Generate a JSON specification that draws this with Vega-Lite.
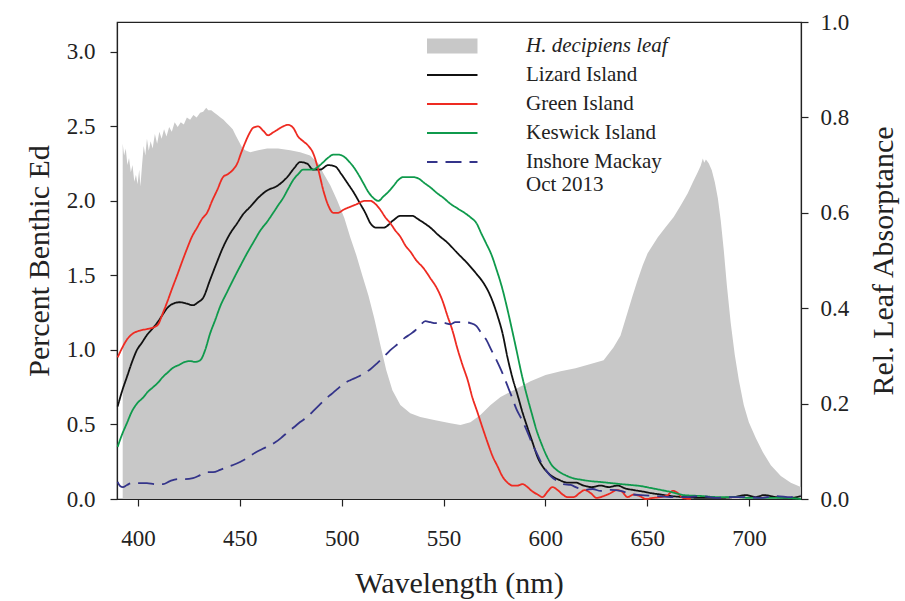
{
  "$schema": "https://vega.github.io/schema/vega-lite/v6.json",
  "width": 684,
  "height": 477,
  "autosize": {"type": "none"},
  "padding": {"left": 117, "top": 22, "right": 104, "bottom": 102},
  "background": "white",
  "config": {
    "font": "Liberation Serif",
    "view": {"stroke": "#222", "strokeWidth": 1.2},
    "axis": {
      "domainColor": "#222", "domainWidth": 1.2, "tickColor": "#222", "tickWidth": 1.2, "tickSize": 7,
      "labelColor": "#222", "titleColor": "#222", "labelFont": "Liberation Serif", "titleFont": "Liberation Serif",
      "labelFontSize": 23, "titleFontSize": 30, "titleFontWeight": "normal", "grid": false
    },
    "legend": {"padding": 0}
  },
  "data": {
    "values": [
      {"s": "H. decipiens leaf", "nm": 392.5, "v": 0.745}, {"s": "H. decipiens leaf", "nm": 393.2, "v": 0.72}, {"s": "H. decipiens leaf", "nm": 394.0, "v": 0.735},
      {"s": "H. decipiens leaf", "nm": 394.8, "v": 0.70}, {"s": "H. decipiens leaf", "nm": 395.6, "v": 0.715}, {"s": "H. decipiens leaf", "nm": 396.5, "v": 0.685},
      {"s": "H. decipiens leaf", "nm": 397.3, "v": 0.70}, {"s": "H. decipiens leaf", "nm": 398.2, "v": 0.665}, {"s": "H. decipiens leaf", "nm": 399.0, "v": 0.68},
      {"s": "H. decipiens leaf", "nm": 399.8, "v": 0.66}, {"s": "H. decipiens leaf", "nm": 400.6, "v": 0.69}, {"s": "H. decipiens leaf", "nm": 401.2, "v": 0.655},
      {"s": "H. decipiens leaf", "nm": 402.0, "v": 0.70}, {"s": "H. decipiens leaf", "nm": 402.8, "v": 0.74}, {"s": "H. decipiens leaf", "nm": 403.6, "v": 0.72},
      {"s": "H. decipiens leaf", "nm": 404.4, "v": 0.755}, {"s": "H. decipiens leaf", "nm": 405.3, "v": 0.73}, {"s": "H. decipiens leaf", "nm": 406.2, "v": 0.75},
      {"s": "H. decipiens leaf", "nm": 407.2, "v": 0.735}, {"s": "H. decipiens leaf", "nm": 408.3, "v": 0.765}, {"s": "H. decipiens leaf", "nm": 409.4, "v": 0.745},
      {"s": "H. decipiens leaf", "nm": 410.5, "v": 0.77}, {"s": "H. decipiens leaf", "nm": 411.6, "v": 0.755}, {"s": "H. decipiens leaf", "nm": 412.8, "v": 0.775},
      {"s": "H. decipiens leaf", "nm": 414.0, "v": 0.76}, {"s": "H. decipiens leaf", "nm": 415.3, "v": 0.78}, {"s": "H. decipiens leaf", "nm": 416.6, "v": 0.77},
      {"s": "H. decipiens leaf", "nm": 418.0, "v": 0.79}, {"s": "H. decipiens leaf", "nm": 419.5, "v": 0.78}, {"s": "H. decipiens leaf", "nm": 421.0, "v": 0.79},
      {"s": "H. decipiens leaf", "nm": 422.5, "v": 0.785}, {"s": "H. decipiens leaf", "nm": 424.0, "v": 0.80}, {"s": "H. decipiens leaf", "nm": 425.6, "v": 0.795},
      {"s": "H. decipiens leaf", "nm": 427.2, "v": 0.805}, {"s": "H. decipiens leaf", "nm": 428.8, "v": 0.80}, {"s": "H. decipiens leaf", "nm": 430.5, "v": 0.81},
      {"s": "H. decipiens leaf", "nm": 432.0, "v": 0.812}, {"s": "H. decipiens leaf", "nm": 433.5, "v": 0.82}, {"s": "H. decipiens leaf", "nm": 434.5, "v": 0.815},
      {"s": "H. decipiens leaf", "nm": 436.0, "v": 0.815}, {"s": "H. decipiens leaf", "nm": 437.5, "v": 0.81}, {"s": "H. decipiens leaf", "nm": 439.0, "v": 0.805},
      {"s": "H. decipiens leaf", "nm": 440.5, "v": 0.80}, {"s": "H. decipiens leaf", "nm": 442.0, "v": 0.795}, {"s": "H. decipiens leaf", "nm": 443.5, "v": 0.788},
      {"s": "H. decipiens leaf", "nm": 445.0, "v": 0.782}, {"s": "H. decipiens leaf", "nm": 446.5, "v": 0.775}, {"s": "H. decipiens leaf", "nm": 448.0, "v": 0.762},
      {"s": "H. decipiens leaf", "nm": 449.5, "v": 0.75}, {"s": "H. decipiens leaf", "nm": 451.0, "v": 0.738}, {"s": "H. decipiens leaf", "nm": 452.6, "v": 0.731},
      {"s": "H. decipiens leaf", "nm": 455.1, "v": 0.727}, {"s": "H. decipiens leaf", "nm": 459.0, "v": 0.731}, {"s": "H. decipiens leaf", "nm": 463.4, "v": 0.735},
      {"s": "H. decipiens leaf", "nm": 468.8, "v": 0.735}, {"s": "H. decipiens leaf", "nm": 474.7, "v": 0.731}, {"s": "H. decipiens leaf", "nm": 479.6, "v": 0.727},
      {"s": "H. decipiens leaf", "nm": 484.5, "v": 0.720}, {"s": "H. decipiens leaf", "nm": 488.5, "v": 0.704}, {"s": "H. decipiens leaf", "nm": 491.0, "v": 0.683},
      {"s": "H. decipiens leaf", "nm": 494.4, "v": 0.658}, {"s": "H. decipiens leaf", "nm": 497.8, "v": 0.626}, {"s": "H. decipiens leaf", "nm": 501.3, "v": 0.589},
      {"s": "H. decipiens leaf", "nm": 504.2, "v": 0.549}, {"s": "H. decipiens leaf", "nm": 507.2, "v": 0.511}, {"s": "H. decipiens leaf", "nm": 510.1, "v": 0.469},
      {"s": "H. decipiens leaf", "nm": 513.1, "v": 0.427}, {"s": "H. decipiens leaf", "nm": 516.0, "v": 0.379}, {"s": "H. decipiens leaf", "nm": 519.0, "v": 0.323},
      {"s": "H. decipiens leaf", "nm": 521.9, "v": 0.270}, {"s": "H. decipiens leaf", "nm": 524.9, "v": 0.228}, {"s": "H. decipiens leaf", "nm": 528.8, "v": 0.197},
      {"s": "H. decipiens leaf", "nm": 533.7, "v": 0.180}, {"s": "H. decipiens leaf", "nm": 538.6, "v": 0.172}, {"s": "H. decipiens leaf", "nm": 546.0, "v": 0.165},
      {"s": "H. decipiens leaf", "nm": 553.4, "v": 0.159}, {"s": "H. decipiens leaf", "nm": 558.3, "v": 0.155}, {"s": "H. decipiens leaf", "nm": 563.2, "v": 0.161},
      {"s": "H. decipiens leaf", "nm": 568.1, "v": 0.176}, {"s": "H. decipiens leaf", "nm": 573.1, "v": 0.197}, {"s": "H. decipiens leaf", "nm": 578.0, "v": 0.214},
      {"s": "H. decipiens leaf", "nm": 585.3, "v": 0.230}, {"s": "H. decipiens leaf", "nm": 592.7, "v": 0.247}, {"s": "H. decipiens leaf", "nm": 600.1, "v": 0.260},
      {"s": "H. decipiens leaf", "nm": 607.5, "v": 0.268}, {"s": "H. decipiens leaf", "nm": 614.8, "v": 0.274}, {"s": "H. decipiens leaf", "nm": 622.2, "v": 0.283},
      {"s": "H. decipiens leaf", "nm": 628.6, "v": 0.291}, {"s": "H. decipiens leaf", "nm": 633.5, "v": 0.318}, {"s": "H. decipiens leaf", "nm": 636.9, "v": 0.343},
      {"s": "H. decipiens leaf", "nm": 640.4, "v": 0.392}, {"s": "H. decipiens leaf", "nm": 642.9, "v": 0.427}, {"s": "H. decipiens leaf", "nm": 645.3, "v": 0.459},
      {"s": "H. decipiens leaf", "nm": 647.8, "v": 0.490}, {"s": "H. decipiens leaf", "nm": 650.2, "v": 0.515}, {"s": "H. decipiens leaf", "nm": 652.7, "v": 0.532},
      {"s": "H. decipiens leaf", "nm": 655.2, "v": 0.549}, {"s": "H. decipiens leaf", "nm": 659.1, "v": 0.570}, {"s": "H. decipiens leaf", "nm": 663.0, "v": 0.591},
      {"s": "H. decipiens leaf", "nm": 666.5, "v": 0.616}, {"s": "H. decipiens leaf", "nm": 669.9, "v": 0.641}, {"s": "H. decipiens leaf", "nm": 672.4, "v": 0.664},
      {"s": "H. decipiens leaf", "nm": 674.8, "v": 0.685}, {"s": "H. decipiens leaf", "nm": 676.3, "v": 0.699}, {"s": "H. decipiens leaf", "nm": 677.3, "v": 0.714},
      {"s": "H. decipiens leaf", "nm": 678.0, "v": 0.705}, {"s": "H. decipiens leaf", "nm": 678.8, "v": 0.712}, {"s": "H. decipiens leaf", "nm": 680.2, "v": 0.704},
      {"s": "H. decipiens leaf", "nm": 681.7, "v": 0.689}, {"s": "H. decipiens leaf", "nm": 683.2, "v": 0.664}, {"s": "H. decipiens leaf", "nm": 684.7, "v": 0.630},
      {"s": "H. decipiens leaf", "nm": 686.1, "v": 0.584}, {"s": "H. decipiens leaf", "nm": 687.6, "v": 0.521}, {"s": "H. decipiens leaf", "nm": 689.1, "v": 0.448},
      {"s": "H. decipiens leaf", "nm": 691.0, "v": 0.369}, {"s": "H. decipiens leaf", "nm": 693.0, "v": 0.302}, {"s": "H. decipiens leaf", "nm": 695.0, "v": 0.249},
      {"s": "H. decipiens leaf", "nm": 697.4, "v": 0.197}, {"s": "H. decipiens leaf", "nm": 699.9, "v": 0.161}, {"s": "H. decipiens leaf", "nm": 703.3, "v": 0.128},
      {"s": "H. decipiens leaf", "nm": 706.8, "v": 0.098}, {"s": "H. decipiens leaf", "nm": 710.7, "v": 0.071}, {"s": "H. decipiens leaf", "nm": 715.6, "v": 0.048},
      {"s": "H. decipiens leaf", "nm": 720.5, "v": 0.034}, {"s": "H. decipiens leaf", "nm": 725.4, "v": 0.025},

      {"s": "Lizard Island", "nm": 390.0, "v": 0.62}, {"s": "Lizard Island", "nm": 392.1, "v": 0.72}, {"s": "Lizard Island", "nm": 394.6, "v": 0.82},
      {"s": "Lizard Island", "nm": 397.1, "v": 0.92}, {"s": "Lizard Island", "nm": 399.5, "v": 1.00}, {"s": "Lizard Island", "nm": 402.0, "v": 1.05},
      {"s": "Lizard Island", "nm": 404.4, "v": 1.10}, {"s": "Lizard Island", "nm": 406.9, "v": 1.14}, {"s": "Lizard Island", "nm": 409.3, "v": 1.18},
      {"s": "Lizard Island", "nm": 411.8, "v": 1.23}, {"s": "Lizard Island", "nm": 414.3, "v": 1.28}, {"s": "Lizard Island", "nm": 417.2, "v": 1.31},
      {"s": "Lizard Island", "nm": 420.6, "v": 1.32}, {"s": "Lizard Island", "nm": 424.1, "v": 1.31}, {"s": "Lizard Island", "nm": 427.0, "v": 1.30},
      {"s": "Lizard Island", "nm": 429.5, "v": 1.32}, {"s": "Lizard Island", "nm": 432.0, "v": 1.35}, {"s": "Lizard Island", "nm": 435.4, "v": 1.47},
      {"s": "Lizard Island", "nm": 438.8, "v": 1.59}, {"s": "Lizard Island", "nm": 441.8, "v": 1.69}, {"s": "Lizard Island", "nm": 445.2, "v": 1.78},
      {"s": "Lizard Island", "nm": 448.7, "v": 1.85}, {"s": "Lizard Island", "nm": 451.6, "v": 1.91}, {"s": "Lizard Island", "nm": 455.1, "v": 1.96},
      {"s": "Lizard Island", "nm": 459.0, "v": 2.02}, {"s": "Lizard Island", "nm": 463.4, "v": 2.07}, {"s": "Lizard Island", "nm": 468.3, "v": 2.10},
      {"s": "Lizard Island", "nm": 473.3, "v": 2.16}, {"s": "Lizard Island", "nm": 476.7, "v": 2.22}, {"s": "Lizard Island", "nm": 479.6, "v": 2.26},
      {"s": "Lizard Island", "nm": 483.0, "v": 2.25}, {"s": "Lizard Island", "nm": 486.0, "v": 2.21}, {"s": "Lizard Island", "nm": 489.5, "v": 2.21},
      {"s": "Lizard Island", "nm": 493.4, "v": 2.24}, {"s": "Lizard Island", "nm": 496.9, "v": 2.23}, {"s": "Lizard Island", "nm": 499.8, "v": 2.18},
      {"s": "Lizard Island", "nm": 502.8, "v": 2.12}, {"s": "Lizard Island", "nm": 506.2, "v": 2.05}, {"s": "Lizard Island", "nm": 509.1, "v": 1.98},
      {"s": "Lizard Island", "nm": 511.6, "v": 1.92}, {"s": "Lizard Island", "nm": 514.1, "v": 1.85}, {"s": "Lizard Island", "nm": 517.0, "v": 1.82},
      {"s": "Lizard Island", "nm": 520.5, "v": 1.82}, {"s": "Lizard Island", "nm": 525.4, "v": 1.87}, {"s": "Lizard Island", "nm": 528.8, "v": 1.90},
      {"s": "Lizard Island", "nm": 532.3, "v": 1.90}, {"s": "Lizard Island", "nm": 534.7, "v": 1.90}, {"s": "Lizard Island", "nm": 537.2, "v": 1.88},
      {"s": "Lizard Island", "nm": 540.6, "v": 1.85}, {"s": "Lizard Island", "nm": 543.6, "v": 1.82}, {"s": "Lizard Island", "nm": 547.5, "v": 1.77},
      {"s": "Lizard Island", "nm": 551.9, "v": 1.72}, {"s": "Lizard Island", "nm": 556.8, "v": 1.65}, {"s": "Lizard Island", "nm": 561.8, "v": 1.58},
      {"s": "Lizard Island", "nm": 566.2, "v": 1.51}, {"s": "Lizard Island", "nm": 569.6, "v": 1.45}, {"s": "Lizard Island", "nm": 573.1, "v": 1.36},
      {"s": "Lizard Island", "nm": 576.5, "v": 1.23}, {"s": "Lizard Island", "nm": 579.0, "v": 1.11}, {"s": "Lizard Island", "nm": 581.4, "v": 0.95},
      {"s": "Lizard Island", "nm": 583.9, "v": 0.81}, {"s": "Lizard Island", "nm": 586.3, "v": 0.70}, {"s": "Lizard Island", "nm": 588.8, "v": 0.58},
      {"s": "Lizard Island", "nm": 591.2, "v": 0.48}, {"s": "Lizard Island", "nm": 593.7, "v": 0.38}, {"s": "Lizard Island", "nm": 596.2, "v": 0.28},
      {"s": "Lizard Island", "nm": 599.1, "v": 0.21}, {"s": "Lizard Island", "nm": 602.6, "v": 0.16}, {"s": "Lizard Island", "nm": 606.5, "v": 0.13},
      {"s": "Lizard Island", "nm": 610.9, "v": 0.11}, {"s": "Lizard Island", "nm": 614.8, "v": 0.11}, {"s": "Lizard Island", "nm": 618.8, "v": 0.09},
      {"s": "Lizard Island", "nm": 622.7, "v": 0.08}, {"s": "Lizard Island", "nm": 627.1, "v": 0.09}, {"s": "Lizard Island", "nm": 631.1, "v": 0.08},
      {"s": "Lizard Island", "nm": 635.5, "v": 0.09}, {"s": "Lizard Island", "nm": 639.4, "v": 0.07}, {"s": "Lizard Island", "nm": 643.4, "v": 0.06},
      {"s": "Lizard Island", "nm": 647.8, "v": 0.05}, {"s": "Lizard Island", "nm": 651.7, "v": 0.04}, {"s": "Lizard Island", "nm": 656.6, "v": 0.03},
      {"s": "Lizard Island", "nm": 661.6, "v": 0.02}, {"s": "Lizard Island", "nm": 668.0, "v": 0.013}, {"s": "Lizard Island", "nm": 676.4, "v": 0.007},
      {"s": "Lizard Island", "nm": 684.7, "v": 0.007}, {"s": "Lizard Island", "nm": 692.5, "v": 0.013}, {"s": "Lizard Island", "nm": 698.4, "v": 0.026},
      {"s": "Lizard Island", "nm": 703.3, "v": 0.013}, {"s": "Lizard Island", "nm": 707.3, "v": 0.026}, {"s": "Lizard Island", "nm": 713.2, "v": 0.013},
      {"s": "Lizard Island", "nm": 720.5, "v": 0.007}, {"s": "Lizard Island", "nm": 725.4, "v": 0.02},

      {"s": "Green Island", "nm": 390.0, "v": 0.95}, {"s": "Green Island", "nm": 392.1, "v": 1.01}, {"s": "Green Island", "nm": 394.6, "v": 1.07},
      {"s": "Green Island", "nm": 397.5, "v": 1.11}, {"s": "Green Island", "nm": 401.0, "v": 1.13}, {"s": "Green Island", "nm": 404.4, "v": 1.14},
      {"s": "Green Island", "nm": 407.4, "v": 1.15}, {"s": "Green Island", "nm": 409.8, "v": 1.17}, {"s": "Green Island", "nm": 412.3, "v": 1.25},
      {"s": "Green Island", "nm": 414.3, "v": 1.32}, {"s": "Green Island", "nm": 416.7, "v": 1.41}, {"s": "Green Island", "nm": 419.2, "v": 1.50},
      {"s": "Green Island", "nm": 421.6, "v": 1.59}, {"s": "Green Island", "nm": 424.1, "v": 1.68}, {"s": "Green Island", "nm": 426.5, "v": 1.76},
      {"s": "Green Island", "nm": 429.0, "v": 1.82}, {"s": "Green Island", "nm": 431.5, "v": 1.88}, {"s": "Green Island", "nm": 433.9, "v": 1.92},
      {"s": "Green Island", "nm": 436.4, "v": 2.00}, {"s": "Green Island", "nm": 438.8, "v": 2.07}, {"s": "Green Island", "nm": 441.8, "v": 2.16},
      {"s": "Green Island", "nm": 444.2, "v": 2.18}, {"s": "Green Island", "nm": 446.7, "v": 2.21}, {"s": "Green Island", "nm": 448.7, "v": 2.25},
      {"s": "Green Island", "nm": 450.6, "v": 2.32}, {"s": "Green Island", "nm": 452.6, "v": 2.39}, {"s": "Green Island", "nm": 454.6, "v": 2.45},
      {"s": "Green Island", "nm": 456.5, "v": 2.49}, {"s": "Green Island", "nm": 459.0, "v": 2.50}, {"s": "Green Island", "nm": 461.5, "v": 2.47},
      {"s": "Green Island", "nm": 463.9, "v": 2.44}, {"s": "Green Island", "nm": 466.4, "v": 2.46}, {"s": "Green Island", "nm": 468.8, "v": 2.48},
      {"s": "Green Island", "nm": 471.3, "v": 2.50}, {"s": "Green Island", "nm": 473.7, "v": 2.51}, {"s": "Green Island", "nm": 476.2, "v": 2.49},
      {"s": "Green Island", "nm": 478.7, "v": 2.43}, {"s": "Green Island", "nm": 481.1, "v": 2.40}, {"s": "Green Island", "nm": 483.6, "v": 2.37},
      {"s": "Green Island", "nm": 486.0, "v": 2.32}, {"s": "Green Island", "nm": 488.5, "v": 2.21}, {"s": "Green Island", "nm": 491.0, "v": 2.07},
      {"s": "Green Island", "nm": 493.4, "v": 1.97}, {"s": "Green Island", "nm": 495.9, "v": 1.92}, {"s": "Green Island", "nm": 498.3, "v": 1.92},
      {"s": "Green Island", "nm": 500.8, "v": 1.94}, {"s": "Green Island", "nm": 504.2, "v": 1.96}, {"s": "Green Island", "nm": 507.7, "v": 1.98},
      {"s": "Green Island", "nm": 511.1, "v": 2.00}, {"s": "Green Island", "nm": 514.1, "v": 2.00}, {"s": "Green Island", "nm": 516.5, "v": 1.98},
      {"s": "Green Island", "nm": 519.0, "v": 1.94}, {"s": "Green Island", "nm": 521.4, "v": 1.89}, {"s": "Green Island", "nm": 523.9, "v": 1.85},
      {"s": "Green Island", "nm": 526.4, "v": 1.80}, {"s": "Green Island", "nm": 528.8, "v": 1.76}, {"s": "Green Island", "nm": 531.3, "v": 1.70},
      {"s": "Green Island", "nm": 533.7, "v": 1.66}, {"s": "Green Island", "nm": 536.7, "v": 1.60}, {"s": "Green Island", "nm": 540.1, "v": 1.55},
      {"s": "Green Island", "nm": 543.6, "v": 1.48}, {"s": "Green Island", "nm": 546.5, "v": 1.42}, {"s": "Green Island", "nm": 549.5, "v": 1.33},
      {"s": "Green Island", "nm": 551.9, "v": 1.23}, {"s": "Green Island", "nm": 554.4, "v": 1.13}, {"s": "Green Island", "nm": 556.8, "v": 1.01},
      {"s": "Green Island", "nm": 559.3, "v": 0.90}, {"s": "Green Island", "nm": 561.8, "v": 0.80}, {"s": "Green Island", "nm": 564.2, "v": 0.68},
      {"s": "Green Island", "nm": 566.7, "v": 0.58}, {"s": "Green Island", "nm": 569.1, "v": 0.48}, {"s": "Green Island", "nm": 571.6, "v": 0.38},
      {"s": "Green Island", "nm": 574.0, "v": 0.29}, {"s": "Green Island", "nm": 576.5, "v": 0.22}, {"s": "Green Island", "nm": 579.0, "v": 0.15},
      {"s": "Green Island", "nm": 581.4, "v": 0.11}, {"s": "Green Island", "nm": 583.9, "v": 0.09}, {"s": "Green Island", "nm": 586.3, "v": 0.09},
      {"s": "Green Island", "nm": 588.8, "v": 0.10}, {"s": "Green Island", "nm": 591.2, "v": 0.08}, {"s": "Green Island", "nm": 593.7, "v": 0.05},
      {"s": "Green Island", "nm": 596.2, "v": 0.03}, {"s": "Green Island", "nm": 598.6, "v": 0.013}, {"s": "Green Island", "nm": 601.1, "v": 0.05},
      {"s": "Green Island", "nm": 603.5, "v": 0.08}, {"s": "Green Island", "nm": 606.0, "v": 0.06}, {"s": "Green Island", "nm": 608.5, "v": 0.03},
      {"s": "Green Island", "nm": 610.9, "v": 0.013}, {"s": "Green Island", "nm": 613.9, "v": 0.013}, {"s": "Green Island", "nm": 616.8, "v": 0.04},
      {"s": "Green Island", "nm": 619.3, "v": 0.06}, {"s": "Green Island", "nm": 622.2, "v": 0.04}, {"s": "Green Island", "nm": 625.2, "v": 0.007},
      {"s": "Green Island", "nm": 628.6, "v": 0.02}, {"s": "Green Island", "nm": 632.1, "v": 0.04}, {"s": "Green Island", "nm": 635.0, "v": 0.06},
      {"s": "Green Island", "nm": 637.5, "v": 0.05}, {"s": "Green Island", "nm": 640.4, "v": 0.013}, {"s": "Green Island", "nm": 643.4, "v": 0.03},
      {"s": "Green Island", "nm": 646.3, "v": 0.02}, {"s": "Green Island", "nm": 649.3, "v": 0.0}, {"s": "Green Island", "nm": 652.7, "v": 0.007},
      {"s": "Green Island", "nm": 656.6, "v": 0.013}, {"s": "Green Island", "nm": 660.1, "v": 0.026}, {"s": "Green Island", "nm": 662.5, "v": 0.055},
      {"s": "Green Island", "nm": 665.0, "v": 0.04}, {"s": "Green Island", "nm": 667.5, "v": 0.007}, {"s": "Green Island", "nm": 671.4, "v": 0.0},

      {"s": "Keswick Island", "nm": 390.0, "v": 0.35}, {"s": "Keswick Island", "nm": 392.1, "v": 0.43}, {"s": "Keswick Island", "nm": 394.6, "v": 0.51},
      {"s": "Keswick Island", "nm": 397.1, "v": 0.59}, {"s": "Keswick Island", "nm": 399.5, "v": 0.64}, {"s": "Keswick Island", "nm": 402.5, "v": 0.68},
      {"s": "Keswick Island", "nm": 404.9, "v": 0.72}, {"s": "Keswick Island", "nm": 407.4, "v": 0.75}, {"s": "Keswick Island", "nm": 409.8, "v": 0.78},
      {"s": "Keswick Island", "nm": 412.3, "v": 0.82}, {"s": "Keswick Island", "nm": 414.7, "v": 0.85}, {"s": "Keswick Island", "nm": 417.2, "v": 0.88},
      {"s": "Keswick Island", "nm": 420.2, "v": 0.90}, {"s": "Keswick Island", "nm": 423.1, "v": 0.92}, {"s": "Keswick Island", "nm": 425.6, "v": 0.925},
      {"s": "Keswick Island", "nm": 428.0, "v": 0.92}, {"s": "Keswick Island", "nm": 430.5, "v": 0.93}, {"s": "Keswick Island", "nm": 433.0, "v": 1.00},
      {"s": "Keswick Island", "nm": 435.4, "v": 1.11}, {"s": "Keswick Island", "nm": 437.9, "v": 1.20}, {"s": "Keswick Island", "nm": 440.3, "v": 1.29},
      {"s": "Keswick Island", "nm": 443.8, "v": 1.39}, {"s": "Keswick Island", "nm": 446.7, "v": 1.47}, {"s": "Keswick Island", "nm": 450.1, "v": 1.56},
      {"s": "Keswick Island", "nm": 453.6, "v": 1.65}, {"s": "Keswick Island", "nm": 457.0, "v": 1.73}, {"s": "Keswick Island", "nm": 460.0, "v": 1.80},
      {"s": "Keswick Island", "nm": 463.4, "v": 1.86}, {"s": "Keswick Island", "nm": 466.4, "v": 1.92}, {"s": "Keswick Island", "nm": 468.8, "v": 1.97},
      {"s": "Keswick Island", "nm": 471.3, "v": 2.02}, {"s": "Keswick Island", "nm": 473.7, "v": 2.08}, {"s": "Keswick Island", "nm": 476.2, "v": 2.14},
      {"s": "Keswick Island", "nm": 478.7, "v": 2.18}, {"s": "Keswick Island", "nm": 481.1, "v": 2.21}, {"s": "Keswick Island", "nm": 483.6, "v": 2.21},
      {"s": "Keswick Island", "nm": 486.0, "v": 2.21}, {"s": "Keswick Island", "nm": 488.5, "v": 2.23}, {"s": "Keswick Island", "nm": 491.0, "v": 2.26},
      {"s": "Keswick Island", "nm": 493.4, "v": 2.29}, {"s": "Keswick Island", "nm": 495.9, "v": 2.31}, {"s": "Keswick Island", "nm": 498.3, "v": 2.31},
      {"s": "Keswick Island", "nm": 500.8, "v": 2.30}, {"s": "Keswick Island", "nm": 503.2, "v": 2.27}, {"s": "Keswick Island", "nm": 505.7, "v": 2.23},
      {"s": "Keswick Island", "nm": 508.1, "v": 2.18}, {"s": "Keswick Island", "nm": 510.6, "v": 2.12}, {"s": "Keswick Island", "nm": 513.1, "v": 2.06},
      {"s": "Keswick Island", "nm": 515.5, "v": 2.02}, {"s": "Keswick Island", "nm": 518.0, "v": 2.00}, {"s": "Keswick Island", "nm": 520.5, "v": 2.03},
      {"s": "Keswick Island", "nm": 522.9, "v": 2.06}, {"s": "Keswick Island", "nm": 525.4, "v": 2.10}, {"s": "Keswick Island", "nm": 527.8, "v": 2.14},
      {"s": "Keswick Island", "nm": 530.3, "v": 2.16}, {"s": "Keswick Island", "nm": 532.8, "v": 2.16}, {"s": "Keswick Island", "nm": 535.2, "v": 2.16},
      {"s": "Keswick Island", "nm": 537.7, "v": 2.15}, {"s": "Keswick Island", "nm": 540.6, "v": 2.12}, {"s": "Keswick Island", "nm": 543.6, "v": 2.09},
      {"s": "Keswick Island", "nm": 547.0, "v": 2.05}, {"s": "Keswick Island", "nm": 550.0, "v": 2.02}, {"s": "Keswick Island", "nm": 553.4, "v": 1.98},
      {"s": "Keswick Island", "nm": 556.8, "v": 1.95}, {"s": "Keswick Island", "nm": 560.3, "v": 1.92}, {"s": "Keswick Island", "nm": 563.2, "v": 1.89},
      {"s": "Keswick Island", "nm": 566.2, "v": 1.85}, {"s": "Keswick Island", "nm": 568.6, "v": 1.78}, {"s": "Keswick Island", "nm": 571.1, "v": 1.71},
      {"s": "Keswick Island", "nm": 573.5, "v": 1.64}, {"s": "Keswick Island", "nm": 576.0, "v": 1.54}, {"s": "Keswick Island", "nm": 578.5, "v": 1.43},
      {"s": "Keswick Island", "nm": 580.9, "v": 1.30}, {"s": "Keswick Island", "nm": 583.4, "v": 1.15}, {"s": "Keswick Island", "nm": 585.8, "v": 1.00},
      {"s": "Keswick Island", "nm": 588.3, "v": 0.84}, {"s": "Keswick Island", "nm": 590.8, "v": 0.70}, {"s": "Keswick Island", "nm": 593.2, "v": 0.58},
      {"s": "Keswick Island", "nm": 595.7, "v": 0.46}, {"s": "Keswick Island", "nm": 598.1, "v": 0.37}, {"s": "Keswick Island", "nm": 600.6, "v": 0.29},
      {"s": "Keswick Island", "nm": 603.0, "v": 0.23}, {"s": "Keswick Island", "nm": 606.0, "v": 0.19}, {"s": "Keswick Island", "nm": 609.8, "v": 0.16},
      {"s": "Keswick Island", "nm": 613.5, "v": 0.14}, {"s": "Keswick Island", "nm": 617.3, "v": 0.13}, {"s": "Keswick Island", "nm": 622.2, "v": 0.12},
      {"s": "Keswick Island", "nm": 627.1, "v": 0.114}, {"s": "Keswick Island", "nm": 632.1, "v": 0.107}, {"s": "Keswick Island", "nm": 637.0, "v": 0.10},
      {"s": "Keswick Island", "nm": 641.9, "v": 0.094}, {"s": "Keswick Island", "nm": 646.8, "v": 0.087}, {"s": "Keswick Island", "nm": 651.7, "v": 0.074},
      {"s": "Keswick Island", "nm": 656.6, "v": 0.061}, {"s": "Keswick Island", "nm": 661.6, "v": 0.047}, {"s": "Keswick Island", "nm": 668.0, "v": 0.026},
      {"s": "Keswick Island", "nm": 676.4, "v": 0.02}, {"s": "Keswick Island", "nm": 684.7, "v": 0.013}, {"s": "Keswick Island", "nm": 693.5, "v": 0.013},
      {"s": "Keswick Island", "nm": 700.9, "v": 0.007}, {"s": "Keswick Island", "nm": 710.7, "v": 0.007}, {"s": "Keswick Island", "nm": 718.0, "v": 0.007},
      {"s": "Keswick Island", "nm": 725.4, "v": 0.0},

      {"s": "Inshore Mackay Oct 2013", "nm": 390.0, "v": 0.115}, {"s": "Inshore Mackay Oct 2013", "nm": 391.2, "v": 0.087}, {"s": "Inshore Mackay Oct 2013", "nm": 392.6, "v": 0.08},
      {"s": "Inshore Mackay Oct 2013", "nm": 394.6, "v": 0.094}, {"s": "Inshore Mackay Oct 2013", "nm": 397.1, "v": 0.107}, {"s": "Inshore Mackay Oct 2013", "nm": 401.0, "v": 0.107},
      {"s": "Inshore Mackay Oct 2013", "nm": 404.4, "v": 0.107}, {"s": "Inshore Mackay Oct 2013", "nm": 408.4, "v": 0.10}, {"s": "Inshore Mackay Oct 2013", "nm": 412.3, "v": 0.10},
      {"s": "Inshore Mackay Oct 2013", "nm": 415.7, "v": 0.12}, {"s": "Inshore Mackay Oct 2013", "nm": 419.7, "v": 0.134}, {"s": "Inshore Mackay Oct 2013", "nm": 423.1, "v": 0.134},
      {"s": "Inshore Mackay Oct 2013", "nm": 427.0, "v": 0.14}, {"s": "Inshore Mackay Oct 2013", "nm": 430.5, "v": 0.16}, {"s": "Inshore Mackay Oct 2013", "nm": 433.9, "v": 0.18},
      {"s": "Inshore Mackay Oct 2013", "nm": 436.9, "v": 0.18}, {"s": "Inshore Mackay Oct 2013", "nm": 440.3, "v": 0.195}, {"s": "Inshore Mackay Oct 2013", "nm": 443.8, "v": 0.215},
      {"s": "Inshore Mackay Oct 2013", "nm": 446.7, "v": 0.228}, {"s": "Inshore Mackay Oct 2013", "nm": 450.1, "v": 0.248}, {"s": "Inshore Mackay Oct 2013", "nm": 453.6, "v": 0.275},
      {"s": "Inshore Mackay Oct 2013", "nm": 457.5, "v": 0.31}, {"s": "Inshore Mackay Oct 2013", "nm": 461.0, "v": 0.335}, {"s": "Inshore Mackay Oct 2013", "nm": 463.9, "v": 0.355},
      {"s": "Inshore Mackay Oct 2013", "nm": 467.4, "v": 0.38}, {"s": "Inshore Mackay Oct 2013", "nm": 470.8, "v": 0.416}, {"s": "Inshore Mackay Oct 2013", "nm": 473.7, "v": 0.45},
      {"s": "Inshore Mackay Oct 2013", "nm": 476.7, "v": 0.483}, {"s": "Inshore Mackay Oct 2013", "nm": 479.6, "v": 0.516}, {"s": "Inshore Mackay Oct 2013", "nm": 483.1, "v": 0.55},
      {"s": "Inshore Mackay Oct 2013", "nm": 486.0, "v": 0.59}, {"s": "Inshore Mackay Oct 2013", "nm": 489.0, "v": 0.63}, {"s": "Inshore Mackay Oct 2013", "nm": 491.9, "v": 0.67},
      {"s": "Inshore Mackay Oct 2013", "nm": 494.9, "v": 0.703}, {"s": "Inshore Mackay Oct 2013", "nm": 497.8, "v": 0.737}, {"s": "Inshore Mackay Oct 2013", "nm": 500.8, "v": 0.771},
      {"s": "Inshore Mackay Oct 2013", "nm": 504.2, "v": 0.797}, {"s": "Inshore Mackay Oct 2013", "nm": 507.7, "v": 0.818}, {"s": "Inshore Mackay Oct 2013", "nm": 511.1, "v": 0.844},
      {"s": "Inshore Mackay Oct 2013", "nm": 514.1, "v": 0.871}, {"s": "Inshore Mackay Oct 2013", "nm": 517.5, "v": 0.912}, {"s": "Inshore Mackay Oct 2013", "nm": 521.0, "v": 0.958},
      {"s": "Inshore Mackay Oct 2013", "nm": 523.9, "v": 0.999}, {"s": "Inshore Mackay Oct 2013", "nm": 527.4, "v": 1.038}, {"s": "Inshore Mackay Oct 2013", "nm": 530.8, "v": 1.079},
      {"s": "Inshore Mackay Oct 2013", "nm": 533.7, "v": 1.106}, {"s": "Inshore Mackay Oct 2013", "nm": 536.2, "v": 1.132}, {"s": "Inshore Mackay Oct 2013", "nm": 538.6, "v": 1.166},
      {"s": "Inshore Mackay Oct 2013", "nm": 541.1, "v": 1.193}, {"s": "Inshore Mackay Oct 2013", "nm": 543.6, "v": 1.186}, {"s": "Inshore Mackay Oct 2013", "nm": 546.0, "v": 1.18},
      {"s": "Inshore Mackay Oct 2013", "nm": 548.5, "v": 1.186}, {"s": "Inshore Mackay Oct 2013", "nm": 550.9, "v": 1.18}, {"s": "Inshore Mackay Oct 2013", "nm": 553.4, "v": 1.173},
      {"s": "Inshore Mackay Oct 2013", "nm": 555.8, "v": 1.186}, {"s": "Inshore Mackay Oct 2013", "nm": 558.3, "v": 1.186}, {"s": "Inshore Mackay Oct 2013", "nm": 560.8, "v": 1.186},
      {"s": "Inshore Mackay Oct 2013", "nm": 563.2, "v": 1.18}, {"s": "Inshore Mackay Oct 2013", "nm": 566.2, "v": 1.16}, {"s": "Inshore Mackay Oct 2013", "nm": 568.6, "v": 1.112},
      {"s": "Inshore Mackay Oct 2013", "nm": 571.1, "v": 1.066}, {"s": "Inshore Mackay Oct 2013", "nm": 573.5, "v": 0.999}, {"s": "Inshore Mackay Oct 2013", "nm": 576.0, "v": 0.932},
      {"s": "Inshore Mackay Oct 2013", "nm": 578.5, "v": 0.858}, {"s": "Inshore Mackay Oct 2013", "nm": 580.9, "v": 0.777}, {"s": "Inshore Mackay Oct 2013", "nm": 583.4, "v": 0.69},
      {"s": "Inshore Mackay Oct 2013", "nm": 585.8, "v": 0.603}, {"s": "Inshore Mackay Oct 2013", "nm": 588.3, "v": 0.536}, {"s": "Inshore Mackay Oct 2013", "nm": 590.8, "v": 0.462},
      {"s": "Inshore Mackay Oct 2013", "nm": 593.2, "v": 0.382}, {"s": "Inshore Mackay Oct 2013", "nm": 595.7, "v": 0.309}, {"s": "Inshore Mackay Oct 2013", "nm": 598.1, "v": 0.241},
      {"s": "Inshore Mackay Oct 2013", "nm": 600.6, "v": 0.187}, {"s": "Inshore Mackay Oct 2013", "nm": 603.0, "v": 0.148}, {"s": "Inshore Mackay Oct 2013", "nm": 606.0, "v": 0.12},
      {"s": "Inshore Mackay Oct 2013", "nm": 608.9, "v": 0.10}, {"s": "Inshore Mackay Oct 2013", "nm": 612.4, "v": 0.094}, {"s": "Inshore Mackay Oct 2013", "nm": 615.8, "v": 0.074},
      {"s": "Inshore Mackay Oct 2013", "nm": 619.3, "v": 0.061}, {"s": "Inshore Mackay Oct 2013", "nm": 623.2, "v": 0.067}, {"s": "Inshore Mackay Oct 2013", "nm": 627.1, "v": 0.054},
      {"s": "Inshore Mackay Oct 2013", "nm": 632.1, "v": 0.061}, {"s": "Inshore Mackay Oct 2013", "nm": 637.0, "v": 0.054}, {"s": "Inshore Mackay Oct 2013", "nm": 641.9, "v": 0.033},
      {"s": "Inshore Mackay Oct 2013", "nm": 646.8, "v": 0.026}, {"s": "Inshore Mackay Oct 2013", "nm": 654.2, "v": 0.02}, {"s": "Inshore Mackay Oct 2013", "nm": 661.6, "v": 0.013},
      {"s": "Inshore Mackay Oct 2013", "nm": 668.9, "v": 0.013}, {"s": "Inshore Mackay Oct 2013", "nm": 676.3, "v": 0.02}, {"s": "Inshore Mackay Oct 2013", "nm": 683.7, "v": 0.007},
      {"s": "Inshore Mackay Oct 2013", "nm": 691.0, "v": 0.013}, {"s": "Inshore Mackay Oct 2013", "nm": 698.4, "v": 0.013}, {"s": "Inshore Mackay Oct 2013", "nm": 705.8, "v": 0.007},
      {"s": "Inshore Mackay Oct 2013", "nm": 713.2, "v": 0.02}, {"s": "Inshore Mackay Oct 2013", "nm": 720.5, "v": 0.013}, {"s": "Inshore Mackay Oct 2013", "nm": 725.4, "v": 0.026}
    ]
  },
  "encoding": {
    "x": {
      "field": "nm", "type": "quantitative",
      "scale": {"domain": [389.7, 725.5], "nice": false, "zero": false},
      "axis": {"title": "Wavelength (nm)", "values": [400, 450, 500, 550, 600, 650, 700], "labelPadding": 21, "titlePadding": 18}
    }
  },
  "layer": [
    {
      "transform": [{"filter": "datum.s === 'H. decipiens leaf'"}],
      "mark": {"type": "area", "color": "#c8c8c8", "interpolate": "linear"},
      "encoding": {
        "y": {
          "field": "v", "type": "quantitative",
          "scale": {"domain": [0, 1], "nice": false},
          "axis": {"orient": "right", "title": "Rel. Leaf Absorptance", "values": [0, 0.2, 0.4, 0.6, 0.8, 1.0], "format": ".1f", "titleAngle": -90, "labelPadding": 12, "titlePadding": 50}
        }
      }
    },
    {
      "transform": [{"filter": "datum.s !== 'H. decipiens leaf'"}],
      "mark": {"type": "line", "strokeWidth": 1.8, "interpolate": "monotone"},
      "encoding": {
        "y": {
          "field": "v", "type": "quantitative",
          "scale": {"domain": [0, 3.2], "nice": false},
          "axis": {"orient": "left", "title": "Percent Benthic Ed", "values": [0, 0.5, 1.0, 1.5, 2.0, 2.5, 3.0], "format": ".1f", "labelPadding": 15, "titlePadding": 12}
        },
        "color": {
          "field": "s", "type": "nominal",
          "scale": {
            "domain": ["H. decipiens leaf", "Lizard Island", "Green Island", "Keswick Island", "Inshore Mackay Oct 2013"],
            "range": ["#c8c8c8", "#111111", "#ee2b22", "#0f9a4c", "#34348a"]
          },
          "legend": {
            "orient": "none", "legendX": 310, "legendY": 12, "title": null,
            "symbolType": "stroke", "symbolSize": 6400, "symbolStrokeWidth": 1.8,
            "labelFont": "Liberation Serif", "labelFontSize": 21, "labelColor": "#222", "labelOffset": 78, "labelLimit": 300,
            "clipHeight": 24, "rowPadding": 5,
            "labelExpr": "datum.label === 'Inshore Mackay Oct 2013' ? ['Inshore Mackay', 'Oct 2013'] : datum.label",
            "encode": {
              "symbols": {"update": {
                "strokeWidth": {"signal": "datum.value === 'H. decipiens leaf' ? 15 : 1.8"},
                "strokeDash": {"signal": "datum.value === 'Inshore Mackay Oct 2013' ? [16, 8] : [1, 0]"}
              }},
              "labels": {"update": {
                "fontStyle": {"signal": "datum.value === 'H. decipiens leaf' ? 'italic' : 'normal'"}
              }}
            }
          }
        },
        "strokeDash": {
          "field": "s", "type": "nominal",
          "scale": {
            "domain": ["Lizard Island", "Green Island", "Keswick Island", "Inshore Mackay Oct 2013"],
            "range": [[1, 0], [1, 0], [1, 0], [16, 8]]
          },
          "legend": null
        }
      }
    }
  ],
  "resolve": {"scale": {"y": "independent"}}
}
